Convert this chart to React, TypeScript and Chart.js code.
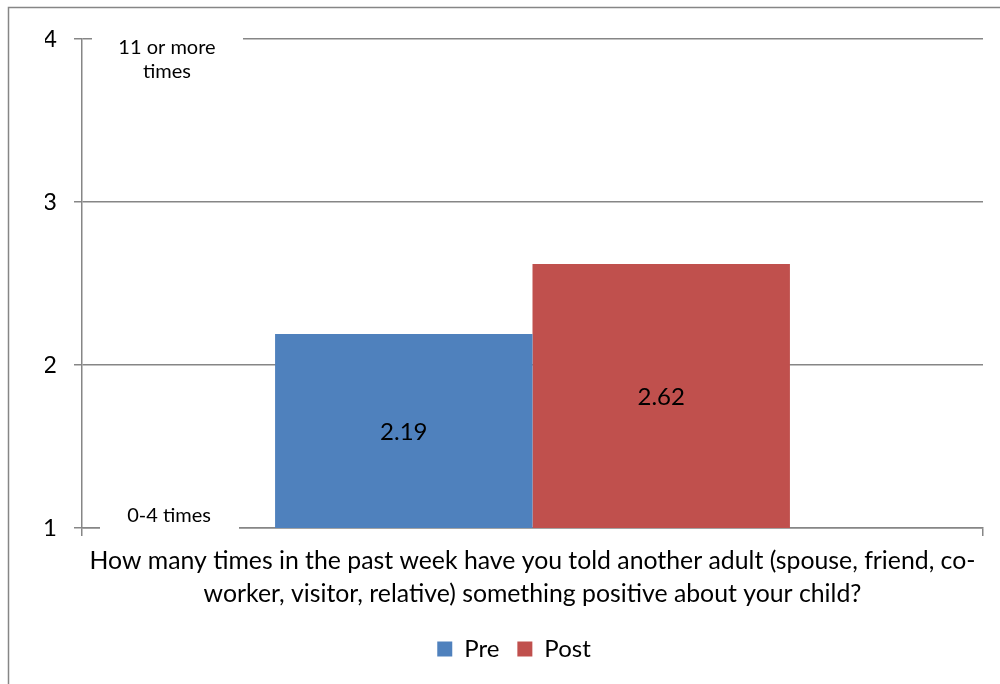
import React, { useEffect, useRef } from "react";
import { Chart, registerables } from "chart.js";

Chart.register(...registerables);

const categoryLines = [
  "How many times in the past week have you told another adult (spouse, friend, co-",
  "worker, visitor, relative) something positive about your child?",
];
const seriesNames = ["Pre", "Post"];
const preValues = [2.19];
const postValues = [2.62];
const seriesColors = ["#4F81BD", "#C0504D"];
const yMin = 1;
const yMax = 4;
const topNote = ["11 or more", "times"];
const bottomNote = ["0-4 times"];

const FONT = "Lato, 'Open Sans', sans-serif";
const GRID = "#868686";

const notesPlugin = {
  id: "notes",
  afterDraw(chart: any) {
    const ctx = chart.ctx;
    const y = chart.scales.y;
    const area = chart.chartArea;
    ctx.save();
    // outer chart border
    ctx.strokeStyle = GRID;
    ctx.lineWidth = 1.5;
    ctx.strokeRect(8.5, 7.5, 1200, 900);

    const yTop = y.getPixelForValue(yMax);
    const yBot = y.getPixelForValue(yMin);

    // data labels, centred in the visible part of each bar
    chart.data.datasets.forEach((ds: any, i: number) => {
      const meta = chart.getDatasetMeta(i);
      meta.data.forEach((bar: any, j: number) => {
        const v = ds.data[j];
        const base = Math.min(bar.base, yBot);
        ctx.fillStyle = "#000";
        ctx.font = `24px ${FONT}`;
        ctx.textAlign = "center";
        ctx.textBaseline = "middle";
        ctx.fillText(v.toFixed(2), bar.x, (bar.y + base) / 2 + 1);
      });
    });

    // text boxes
    ctx.fillStyle = "#fff";
    ctx.fillRect(area.left + 10, yTop - 12, 151, 62);
    ctx.fillRect(area.left + 18, yBot - 26, 139, 32);
    ctx.fillStyle = "#000";
    ctx.font = `20px ${FONT}`;
    ctx.textAlign = "center";
    ctx.textBaseline = "middle";
    topNote.forEach((t, k) => ctx.fillText(t, area.left + 85, yTop + 9 + k * 24));
    bottomNote.forEach((t) => ctx.fillText(t, area.left + 87, yBot - 12));
    ctx.restore();
  },
};

export default function App() {
  const ref = useRef<HTMLCanvasElement | null>(null);
  useEffect(() => {
    document.body.style.margin = "0";
    const canvas = ref.current!;
    const chart = new Chart(canvas, {
      type: "bar",
      data: {
        labels: [categoryLines],
        datasets: [
          { label: seriesNames[0], data: preValues, backgroundColor: seriesColors[0], borderWidth: 0 },
          { label: seriesNames[1], data: postValues, backgroundColor: seriesColors[1], borderWidth: 0 },
        ],
      },
      options: {
        responsive: false,
        animation: false,
        devicePixelRatio: 1,
        layout: { padding: { top: 39, right: 17, bottom: 13, left: 45 } },
        datasets: {
          bar: { categoryPercentage: 2 / 3.5, barPercentage: 1 },
        },
        scales: {
          x: {
            offset: true,
            grid: {
              offset: true,
              drawOnChartArea: false,
              drawTicks: true,
              tickLength: 8,
              color: GRID,
              lineWidth: 1.5,
            },
            border: { display: true, color: GRID, width: 1.5 },
            ticks: {
              color: "#000",
              font: { family: FONT, size: 24.8, lineHeight: 1.32 },
              padding: 9,
              maxRotation: 0,
              autoSkip: false,
            },
            afterFit(scale: any) {
              scale.height = 91;
            },
          },
          y: {
            min: yMin,
            max: yMax,
            ticks: {
              stepSize: 1,
              color: "#000",
              font: { family: FONT, size: 24 },
              padding: 17,
            },
            grid: { color: GRID, lineWidth: 1.5, tickLength: 8, drawTicks: true },
            border: { display: true, color: GRID, width: 1.5 },
            afterFit(scale: any) {
              scale.width = 37;
            },
          },
        },
        plugins: {
          legend: {
            position: "bottom",
            labels: {
              color: "#000",
              font: { family: FONT, size: 24 },
              boxWidth: 15,
              boxHeight: 15,
              padding: 18,
            },
          },
          tooltip: { enabled: false },
        },
      },
      plugins: [notesPlugin],
    } as any);
    return () => chart.destroy();
  }, []);
  return (
    <div style={{ position: "absolute", left: 0, top: 0, width: 1000, height: 684, background: "#fff" }}>
      <canvas ref={ref} width={1000} height={684} />
    </div>
  );
}
